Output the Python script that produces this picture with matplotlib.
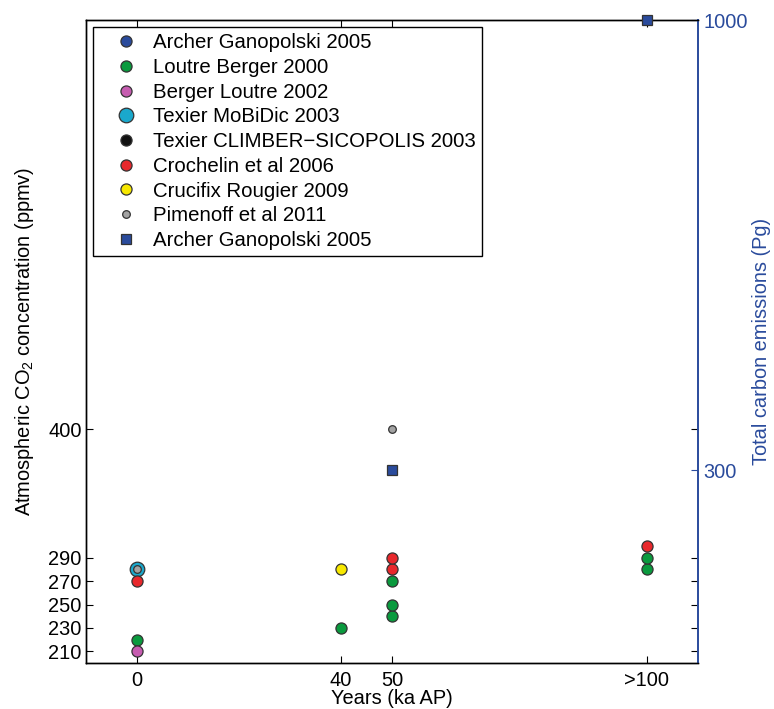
import numpy as np
import matplotlib.pyplot as plt
from matplotlib.lines import Line2D

plt.rcParams['font.family'] = ['Liberation Sans', 'DejaVu Sans']
plt.rcParams['mathtext.fontset'] = 'custom'
plt.rcParams['mathtext.rm'] = 'Liberation Sans'
fs = 14.4

# time slot for each study (ka AP); ">100" sits at 100
x_ticks = [0, 40, 50, 100]
x_ticklabels = ['0', '40', '50', '>100']
co2_ticks = [210, 230, 250, 270, 290, 400]
emis_ticks = [300, 1000]

# CO2 threshold values (ppmv) per study
archer_x, archer_y = [], []
loutre_x = [0, 40, 50, 50, 50, 100, 100]
loutre_y = [220, 230, 240, 250, 270, 280, 290]
berger_x, berger_y = [0], [210]
mobidic_x, mobidic_y = [0], [280]
climber_x, climber_y = [], []
crochelin_x = [0, 50, 50, 100]
crochelin_y = [270, 280, 290, 300]
crucifix_x, crucifix_y = [40], [280]
pimenoff_x, pimenoff_y = [0, 50], [280, 400]

# total carbon emissions (Pg)
archer_emis_x = [50, 100]
archer_emis_y = [300, 1000]

navy = '#2a4b9c'
edge = '#333333'

fig = plt.figure(figsize=(7.74, 7.09), dpi=100)
ax = fig.add_axes([86 / 774, 46 / 709, 612 / 774, 643 / 709])
ax2 = ax.twinx()

series = [
    ('Archer Ganopolski 2005', archer_x, archer_y, 'o', '#2a4b9c', 8),
    ('Loutre Berger 2000', loutre_x, loutre_y, 'o', '#0a9a3e', 8),
    ('Berger Loutre 2002', berger_x, berger_y, 'o', '#c65cb0', 8),
    ('Texier MoBiDic 2003', mobidic_x, mobidic_y, 'o', '#1aa8cc', 10.5),
    ('Texier CLIMBER\u2212SICOPOLIS 2003', climber_x, climber_y, 'o', '#111111', 8),
    ('Crochelin et al 2006', crochelin_x, crochelin_y, 'o', '#e8282c', 8),
    ('Crucifix Rougier 2009', crucifix_x, crucifix_y, 'o', '#f7e800', 8),
    ('Pimenoff et al 2011', pimenoff_x, pimenoff_y, 'o', '#a3a3a3', 5.5),
]

handles = []
for label, xs, ys, m, c, ms in series:
    ax.plot(xs, ys, linestyle='none', marker=m, markersize=ms,
            markerfacecolor=c, markeredgecolor=edge, markeredgewidth=0.9,
            zorder=3)
    handles.append(Line2D([], [], linestyle='none', marker=m, markersize=ms,
                          markerfacecolor=c, markeredgecolor=edge,
                          markeredgewidth=0.9, label=label))

ax2.plot(archer_emis_x, archer_emis_y, linestyle='none', marker='s',
         markersize=6.5, markerfacecolor=navy, markeredgecolor=edge,
         markeredgewidth=0.9, clip_on=False, zorder=5)
handles.append(Line2D([], [], linestyle='none', marker='s', markersize=6.5,
                      markerfacecolor=navy, markeredgecolor=edge,
                      markeredgewidth=0.9, label='Archer Ganopolski 2005'))

ax.set_xlim(-10, 110)
ax.set_ylim(200, 750)
ax2.set_ylim(0, 1000)

ax.set_xticks(x_ticks)
ax.set_xticklabels(x_ticklabels)
ax.set_yticks(co2_ticks)
ax.tick_params(axis='both', direction='in', length=5, width=0.8,
               labelsize=fs, top=True, right=True, color='black')
ax.tick_params(axis='x', pad=6)
ax.tick_params(axis='y', pad=3)

ax2.set_yticks(emis_ticks)
ax2.tick_params(axis='y', direction='in', length=5, width=0.8,
                labelsize=fs, colors=navy, pad=4)

for a in (ax, ax2):
    for s in a.spines.values():
        s.set_linewidth(1.0)
ax.spines['right'].set_visible(False)
ax2.spines['right'].set_color(navy)
ax2.spines['right'].set_linewidth(1.4)

ax.set_xlabel('Years (ka AP)', fontsize=fs, labelpad=-1)
ax.set_ylabel('Atmospheric CO$_2$ concentration (ppmv)', fontsize=fs,
              labelpad=9)
ax2.set_ylabel('Total carbon emissions (Pg)', fontsize=fs, color=navy,
               labelpad=3)

leg = ax.legend(handles=handles, loc='upper left', bbox_to_anchor=(0, 1),
                prop={'size': 14.7}, frameon=True, fancybox=False,
                framealpha=1, edgecolor='black', borderaxespad=0.35,
                labelspacing=0.28, handletextpad=0.05, handlelength=2.6,
                borderpad=0.3)
leg.get_frame().set_linewidth(1.0)
leg.set_zorder(10)

fig.savefig('out.png', dpi=100)
